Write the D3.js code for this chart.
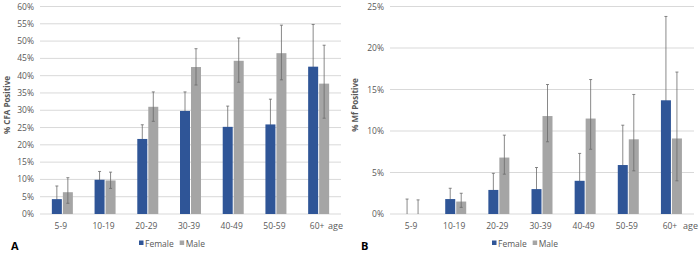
<!DOCTYPE html>
<html>
<head>
<meta charset="utf-8">
<script src="https://cdn.jsdelivr.net/npm/d3@7"></script>
<style>
  body { margin: 0; background: #fff; }
  svg text { font-family: "Open Sans", "Noto Sans", sans-serif; fill: #595959; }
</style>
</head>
<body>
<div id="wrapper"></div>
<script>
// age groups
const ages = ["5-9", "10-19", "20-29", "30-39", "40-49", "50-59", "60+"];
const seriesNames = ["Female", "Male"];

// panel A : % CFA positive (value, upper and lower CI bound)
const cfaFemale = [4.3, 9.9, 21.7, 29.8, 25.2, 25.9, 42.6];
const cfaFemaleHi = [8.1, 12.3, 25.8, 35.3, 31.2, 33.2, 54.8];
const cfaFemaleLo = [1.5, 7.5, 17.8, 24.5, 19.8, 19.5, 31.0];
const cfaMale = [6.3, 9.7, 31.0, 42.5, 44.3, 46.5, 37.7];
const cfaMaleHi = [10.5, 12.1, 35.3, 47.8, 50.9, 54.6, 48.8];
const cfaMaleLo = [3.1, 7.4, 26.8, 37.3, 38.1, 38.8, 27.7];
const cfaTicks = [0, 5, 10, 15, 20, 25, 30, 35, 40, 45, 50, 55, 60];

// panel B : % Mf positive
const mfFemale = [0, 1.8, 2.9, 3.0, 4.0, 5.9, 13.7];
const mfFemaleHi = [1.8, 3.1, 4.9, 5.6, 7.3, 10.7, 23.8];
const mfFemaleLo = [0, 0.8, 1.5, 1.5, 2.0, 3.2, 7.5];
const mfMale = [0, 1.5, 6.8, 11.8, 11.5, 9.0, 9.1];
const mfMaleHi = [1.7, 2.5, 9.5, 15.6, 16.2, 14.4, 17.1];
const mfMaleLo = [0, 0.8, 4.8, 8.7, 7.8, 5.2, 4.0];
const mfTicks = [0, 5, 10, 15, 20, 25];

const colors = { Female: "#2f5597", Male: "#a5a5a5" };

const svg = d3.select("#wrapper").append("svg")
    .attr("width", 700)
    .attr("height", 253);

function drawPanel(opt) {
    const x = d3.scaleBand().domain(ages).range(opt.xRange);
    const y = d3.scaleLinear().domain([0, opt.max]).range([214, 6.5]);
    const barW = 10;

    const g = svg.append("g");

    // gridlines
    g.selectAll(".grid")
        .data(opt.ticks)
        .enter().append("line")
        .attr("x1", opt.xRange[0] - 1)
        .attr("x2", opt.xRange[1] + 1)
        .attr("y1", d => y(d))
        .attr("y2", d => y(d))
        .attr("stroke", "#d9d9d9")
        .attr("stroke-width", 1);

    // y tick labels
    g.selectAll(".ylab")
        .data(opt.ticks)
        .enter().append("text")
        .attr("x", opt.xRange[0] - 7)
        .attr("y", d => y(d) + 3)
        .attr("text-anchor", "end")
        .style("font-size", "8.5px")
        .text(d => d + "%");

    const series = [
        { name: "Female", vals: opt.female, hi: opt.femaleHi, lo: opt.femaleLo, dx: -barW - 0.5 },
        { name: "Male", vals: opt.male, hi: opt.maleHi, lo: opt.maleLo, dx: 0.5 }
    ];

    function errorBars(s) {
        s.vals.forEach((v, i) => {
            const mx = x(ages[i]) + x.bandwidth() / 2 + s.dx + barW / 2;
            const hi = y(s.hi[i]);
            const lo = y(s.lo[i]);
            g.append("line")
                .attr("x1", mx).attr("x2", mx)
                .attr("y1", hi).attr("y2", lo)
                .attr("stroke", "#6b6b6b").attr("stroke-width", 0.8);
            g.append("line")
                .attr("x1", mx - 1.5).attr("x2", mx + 1.5)
                .attr("y1", hi).attr("y2", hi)
                .attr("stroke", "#6b6b6b").attr("stroke-width", 0.8);
            if (s.lo[i] > 0) {
                g.append("line")
                    .attr("x1", mx - 1.5).attr("x2", mx + 1.5)
                    .attr("y1", lo).attr("y2", lo)
                    .attr("stroke", "#6b6b6b").attr("stroke-width", 0.8);
            }
        });
    }

    series.forEach(s => {
        // female whiskers sit behind the blue bars, male ones on top
        if (s.name === "Female") errorBars(s);
        g.selectAll(".bar-" + s.name)
            .data(s.vals)
            .enter().append("rect")
            .attr("x", (d, i) => x(ages[i]) + x.bandwidth() / 2 + s.dx)
            .attr("y", d => y(d))
            .attr("width", barW)
            .attr("height", d => y(0) - y(d))
            .attr("fill", colors[s.name]);
        if (s.name === "Male") errorBars(s);
    });

    // category labels
    g.selectAll(".xlab")
        .data(ages)
        .enter().append("text")
        .attr("x", d => x(d) + x.bandwidth() / 2 - 1.5)
        .attr("y", 229)
        .attr("text-anchor", "middle")
        .style("font-size", "8.5px")
        .text(d => d);

    g.append("text")
        .attr("x", opt.ageX)
        .attr("y", 229)
        .style("font-size", "9px")
        .text("age");

    // y axis title
    g.append("text")
        .attr("transform", `translate(${opt.titleX},${opt.titleY}) rotate(-90)`)
        .attr("text-anchor", "middle")
        .style("font-size", "8px")
        .style("font-weight", "bold")
        .text(opt.title);

    // panel letter
    g.append("text")
        .attr("x", opt.letterX)
        .attr("y", 250)
        .style("font-size", "11px")
        .style("font-weight", "bold")
        .style("fill", "#000")
        .text(opt.letter);

    // legend
    const leg = g.append("g").attr("transform", `translate(${opt.legendX},244)`);
    let lx = 0;
    seriesNames.forEach(n => {
        leg.append("rect")
            .attr("x", lx).attr("y", -3.5)
            .attr("width", 4.5).attr("height", 4.5)
            .attr("fill", colors[n]);
        const t = leg.append("text")
            .attr("x", lx + 6)
            .attr("y", 3)
            .style("font-size", "8.5px")
            .text(n);
        lx += 6 + t.node().getComputedTextLength() + 6;
    });
}

drawPanel({
    xRange: [41, 340], max: 60, ticks: cfaTicks,
    female: cfaFemale, femaleHi: cfaFemaleHi, femaleLo: cfaFemaleLo,
    male: cfaMale, maleHi: cfaMaleHi, maleLo: cfaMaleLo,
    ageX: 328, title: "% CFA Positive", titleX: 10, titleY: 105,
    letter: "A", letterX: 11, legendX: 139
});

drawPanel({
    xRange: [391, 693], max: 25, ticks: mfTicks,
    female: mfFemale, femaleHi: mfFemaleHi, femaleLo: mfFemaleLo,
    male: mfMale, maleHi: mfMaleHi, maleLo: mfMaleLo,
    ageX: 683, title: "% Mf Positive", titleX: 358, titleY: 105,
    letter: "B", letterX: 361, legendX: 492
});
</script>
</body>
</html>
